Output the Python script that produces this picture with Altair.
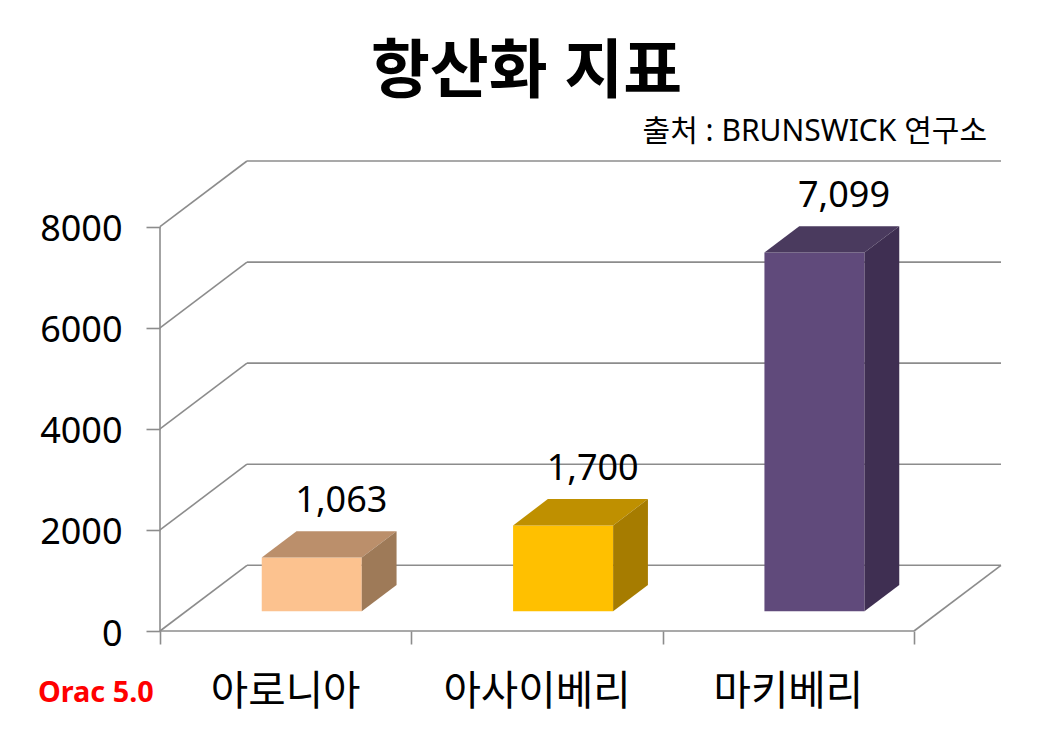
import altair as alt
import pandas as pd

categories = ["아로니아", "아사이베리", "마키베리"]
values = [1063, 1700, 7099]
y_ticks = [0, 2000, 4000, 6000, 8000]
x_ticks = [0, 1, 2, 3]
front_colors = ["#FCC28F", "#FFC000", "#604A7B"]
top_colors = ["#BB8F6B", "#BF9000", "#4A3A5E"]
side_colors = ["#9E7A58", "#A67C00", "#3F2F52"]
title_text = "항산화 지표"
source_text = "출처 : BRUNSWICK 연구소"
note_text = "Orac 5.0"

FONT = "Noto Sans, Noto Sans CJK KR"
GREY = "#8C8C8C"
DX, DY = 0.346, 1300      # full depth of the box, in axis units
NEAR, FAR = 0.3, 0.7      # where the bars sit along that depth
HALF = 0.199              # half bar width in category units

xs = alt.Scale(domain=[0, 3 + DX], nice=False, zero=False)
ys = alt.Scale(domain=[0, 8000 + DY], nice=False)
xq = lambda f="x": alt.X(f"{f}:Q", scale=xs, title=None)
yq = lambda f="y": alt.Y(f"{f}:Q", scale=ys, title=None)

# walls and floor
segs = []
for t in y_ticks:
    segs += [dict(id=f"b{t}", x=DX, y=t + DY), dict(id=f"b{t}", x=3 + DX, y=t + DY)]
    segs += [dict(id=f"d{t}", x=0, y=t), dict(id=f"d{t}", x=DX, y=t + DY)]
segs += [dict(id="f", x=3, y=0), dict(id="f", x=3 + DX, y=DY)]
segs += [dict(id="wall", x=0, y=0), dict(id="wall", x=0, y=8000)]
segs += [dict(id="front", x=0, y=0), dict(id="front", x=3, y=0)]
walls = alt.Chart(pd.DataFrame(segs)).mark_line(color=GREY, strokeWidth=1.6).encode(
    x=alt.X("x:Q", scale=xs, axis=alt.Axis(values=x_ticks, labels=False, title=None, domain=False,
                                           grid=False, tickSize=13, tickColor=GREY, tickWidth=1.6)),
    y=alt.Y("y:Q", scale=ys, axis=alt.Axis(values=y_ticks, title=None, domain=False, grid=False,
                                           tickSize=14, tickColor=GREY, tickWidth=1.6,
                                           labelFont=FONT, labelFontSize=36, labelColor="#000000",
                                           labelPadding=24, labelOffset=3, format="d")),
    detail="id:N",
)

front, tops, sides = [], [], []
for i, (c, v) in enumerate(zip(categories, values)):
    l = i + 0.5 - HALF + NEAR * DX
    r = i + 0.5 + HALF + NEAR * DX
    y0 = NEAR * DY
    d = (FAR - NEAR)
    front.append(dict(c=c, l=l, r=r, y0=y0, y1=v + y0, col=front_colors[i]))
    ty = v + y0
    tops += [dict(c=c, x=l, x2=r, y=ty, col=top_colors[i]),
             dict(c=c, x=l + d * DX, x2=r + d * DX, y=ty + d * DY, col=top_colors[i])]
    sides += [dict(c=c, x=r, y=y0, y2=ty, col=side_colors[i]),
              dict(c=c, x=r + d * DX, y=y0 + d * DY, y2=ty + d * DY, col=side_colors[i])]

front_layer = alt.Chart(pd.DataFrame(front)).mark_rect().encode(
    x=xq("l"), x2="r:Q", y=yq("y0"), y2="y1:Q", color=alt.Color("col:N", scale=None))
top_layer = alt.Chart(pd.DataFrame(tops)).mark_area(orient="horizontal").encode(
    y=yq("y"), x=alt.X("x:Q", scale=xs, title=None, stack=None), x2="x2:Q",
    detail="c:N", color=alt.Color("col:N", scale=None))
side_layer = alt.Chart(pd.DataFrame(sides)).mark_area(orient="vertical").encode(
    x=xq("x"), y=alt.Y("y:Q", scale=ys, title=None, stack=None), y2="y2:Q",
    detail="c:N", color=alt.Color("col:N", scale=None))

label_df = pd.DataFrame({
    "v": values,
    "x": [i + 0.5 + 0.64 * DX for i in range(3)],
    "y": [v + FAR * DY for v in values],
})
labels = alt.Chart(label_df).mark_text(font=FONT, fontSize=36, color="#000000", dy=-30).encode(
    x=xq(), y=yq(), text=alt.Text("v:Q", format=","))

cat_df = pd.DataFrame({"c": categories, "x": [i + 0.5 for i in range(3)]})
cats = alt.Chart(cat_df).mark_text(font=FONT, fontSize=40.7, color="#000000").encode(
    x=xq(), y=alt.value(532), text="c:N")

source = alt.Chart(pd.DataFrame({"t": [source_text]})).mark_text(
    font=FONT, fontSize=30, color="#000000", align="right").encode(
    x=alt.value(827), y=alt.value(-29), text="t:N")
note = alt.Chart(pd.DataFrame({"t": [note_text]})).mark_text(
    font=FONT, fontSize=28.8, fontWeight="bold", color="#FF0000", align="left").encode(
    x=alt.value(-122), y=alt.value(532), text="t:N")

chart = alt.layer(walls, front_layer, top_layer, side_layer, labels, cats, source, note).properties(
    width=841, height=470,
    padding={"left": 152, "top": 153, "right": 40, "bottom": 90},
    autosize=alt.AutoSizeParams(type="none"),
    title=alt.TitleParams(title_text, font=FONT, fontSize=64, fontWeight="bold", color="#000000",
                          anchor="middle", dx=-54, offset=12),
    background="#FFFFFF",
).configure_view(stroke=None)

chart.save("out.html", embed_options={"renderer": "svg", "actions": False})
